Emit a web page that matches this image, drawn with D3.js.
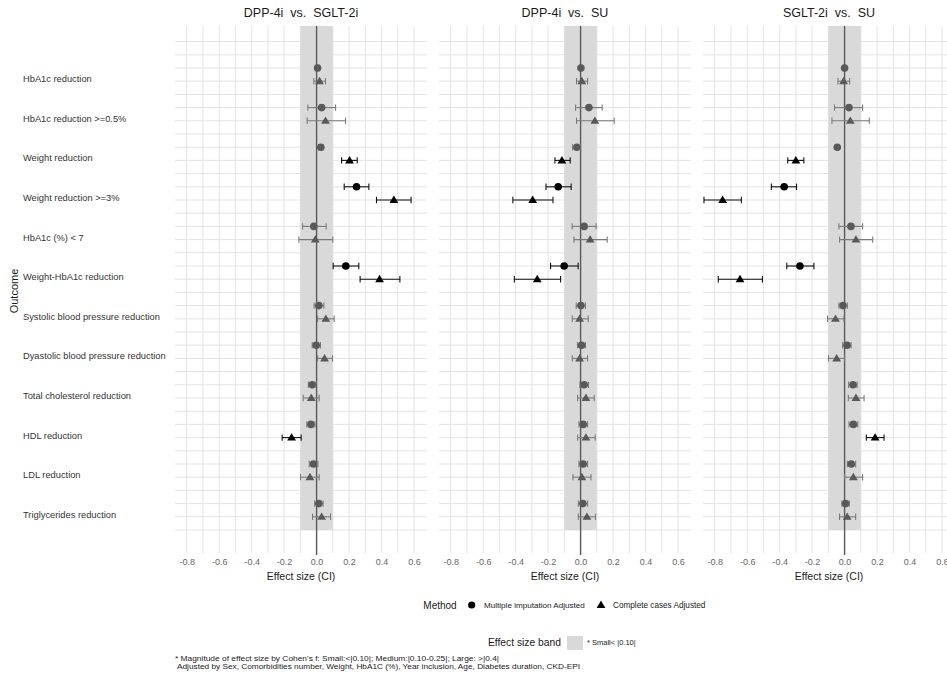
<!DOCTYPE html>
<html><head><meta charset="utf-8">
<script src="https://cdn.jsdelivr.net/npm/d3@7"></script>
<style>body{margin:0;background:#fff}svg{display:block;font-family:"Liberation Sans",Arial,sans-serif}</style>
</head><body><svg id="c" width="947" height="679"></svg>
<script>
// ---------- DATA ----------
const outcomes = ["HbA1c reduction","HbA1c reduction >=0.5%","Weight reduction","Weight reduction >=3%","HbA1c (%) < 7","Weight-HbA1c reduction","Systolic blood pressure reduction","Dyastolic blood pressure reduction","Total cholesterol reduction","HDL reduction","LDL reduction","Triglycerides reduction"];
const comparisons = ["DPP-4i  vs.  SGLT-2i","DPP-4i  vs.  SU","SGLT-2i  vs.  SU"];
const methods = ["Multiple imputation Adjusted","Complete cases Adjusted"];
const xTicks = [-0.8,-0.6,-0.4,-0.2,0.0,0.2,0.4,0.6];
const bandLimit = 0.10;

// DPP-4i vs SGLT-2i
const dsMiEst = [0.006,0.031,0.026,0.246,-0.017,0.180,0.014,-0.002,-0.027,-0.035,-0.019,0.014];
const dsMiLo  = [-0.004,-0.054,0.014,0.170,-0.086,0.102,-0.015,-0.027,-0.051,-0.060,-0.045,-0.012];
const dsMiHi  = [0.016,0.117,0.038,0.322,0.059,0.260,0.045,0.024,-0.004,-0.010,0.008,0.040];
const dsCcEst = [0.018,0.055,0.203,0.476,-0.008,0.388,0.057,0.049,-0.033,-0.154,-0.041,0.031];
const dsCcLo  = [-0.017,-0.058,0.154,0.369,-0.109,0.268,0.006,0.006,-0.082,-0.212,-0.099,-0.025];
const dsCcHi  = [0.055,0.178,0.250,0.582,0.100,0.513,0.108,0.098,0.016,-0.095,0.016,0.086];
// DPP-4i vs SU
const duMiEst = [0.002,0.051,-0.023,-0.138,0.022,-0.101,0.002,0.006,0.022,0.016,0.016,0.014];
const duMiLo  = [-0.006,-0.031,-0.049,-0.213,-0.052,-0.185,-0.027,-0.019,-0.004,-0.010,-0.010,-0.014];
const duMiHi  = [0.010,0.133,0.000,-0.058,0.096,-0.015,0.030,0.030,0.049,0.043,0.043,0.043];
const duCcEst = [0.008,0.088,-0.115,-0.295,0.059,-0.267,-0.006,-0.006,0.033,0.033,0.008,0.039];
const duCcLo  = [-0.025,-0.025,-0.158,-0.417,-0.041,-0.408,-0.051,-0.051,-0.018,-0.018,-0.047,-0.014];
const duCcHi  = [0.043,0.207,-0.064,-0.170,0.164,-0.123,0.047,0.043,0.084,0.090,0.064,0.092];
// SGLT-2i vs SU
const suMiEst = [0.000,0.027,-0.045,-0.372,0.039,-0.275,-0.010,0.015,0.052,0.054,0.041,0.006];
const suMiLo  = [-0.008,-0.062,-0.053,-0.451,-0.035,-0.356,-0.035,-0.012,0.025,0.027,0.017,-0.017];
const suMiHi  = [0.008,0.111,-0.037,-0.296,0.111,-0.189,0.017,0.040,0.077,0.081,0.068,0.029];
const suCcEst = [-0.006,0.035,-0.300,-0.751,0.070,-0.644,-0.056,-0.049,0.070,0.188,0.054,0.016];
const suCcLo  = [-0.041,-0.078,-0.350,-0.866,-0.031,-0.778,-0.105,-0.099,0.023,0.134,0.000,-0.031];
const suCcHi  = [0.031,0.152,-0.251,-0.636,0.173,-0.506,-0.004,0.000,0.120,0.243,0.111,0.068];

const panels = [
  {title: comparisons[0], mi:[dsMiEst,dsMiLo,dsMiHi], cc:[dsCcEst,dsCcLo,dsCcHi]},
  {title: comparisons[1], mi:[duMiEst,duMiLo,duMiHi], cc:[duCcEst,duCcLo,duCcHi]},
  {title: comparisons[2], mi:[suMiEst,suMiLo,suMiHi], cc:[suCcEst,suCcLo,suCcHi]}
];

// ---------- LAYOUT ----------
const svg = d3.select("#c");
const panelW = 252, stride = 264, firstLeft = 175;
const panelTop = 26, panelBottom = 553;
const domainX = [-0.872, 0.68];
const nSlots = 38;
const y = d3.scaleLinear().domain([0, nSlots]).range([28.4, 530]);

const gridCol = "#e3e3e3", bandCol = "#d9d9d9";
const greyPt = "#595959", greyBar = "#7a7a7a", blackPt = "#000";

const triPath = "M0,-4.4L4.4,3L-4.4,3Z";

panels.forEach((p, pi) => {
  const left = firstLeft + pi * stride;
  const x = d3.scaleLinear().domain(domainX).range([left, left + panelW]);
  const g = svg.append("g");

  // vertical grid every 0.1
  const vgrid = d3.range(-8, 7).map(d => d / 10);
  g.selectAll(".vg").data(vgrid).join("line")
    .attr("x1", d => x(d)).attr("x2", d => x(d))
    .attr("y1", panelTop).attr("y2", panelBottom)
    .attr("stroke", gridCol).attr("stroke-width", 1);
  // horizontal grid
  g.selectAll(".hg").data(d3.range(1, nSlots + 1)).join("line")
    .attr("x1", left).attr("x2", left + panelW)
    .attr("y1", d => y(d)).attr("y2", d => y(d))
    .attr("stroke", gridCol).attr("stroke-width", 1);

  // small effect band
  g.append("rect")
    .attr("x", x(-bandLimit)).attr("width", x(bandLimit) - x(-bandLimit))
    .attr("y", panelTop).attr("height", y(nSlots) - panelTop)
    .attr("fill", bandCol);

  // zero line
  g.append("line").attr("x1", x(0)).attr("x2", x(0))
    .attr("y1", panelTop).attr("y2", panelBottom + 2)
    .attr("stroke", "#5a5a5a").attr("stroke-width", 1.4);

  // title
  g.append("text").attr("x", left + panelW / 2).attr("y", 16.5)
    .attr("text-anchor", "middle").attr("font-size", 12.5).attr("fill", "#1a1a1a")
    .style("white-space", "pre").text(p.title);

  // axis
  const ax = g.append("g").attr("transform", `translate(0,${panelBottom})`)
    .call(d3.axisBottom(x).tickValues(xTicks).tickSize(0).tickPadding(6).tickFormat(d => d.toFixed(1)));
  ax.select(".domain").remove();
  ax.selectAll("text").attr("font-size", 9).attr("fill", "#666").attr("font-family", "Liberation Sans, Arial, sans-serif");

  g.append("text").attr("x", left + panelW / 2).attr("y", 579.5)
    .attr("text-anchor", "middle").attr("font-size", 10.5).attr("fill", "#1a1a1a")
    .text("Effect size (CI)");

  // points
  const series = [
    {vals: p.mi, offset: 3, shape: "circle"},
    {vals: p.cc, offset: 4, shape: "triangle"}
  ];
  series.forEach(s => {
    const [est, lo, hi] = s.vals;
    outcomes.forEach((o, i) => {
      const yy = y(3 * i + s.offset);
      const strong = Math.abs(est[i]) > bandLimit;
      const pc = strong ? blackPt : greyPt;
      const bc = strong ? "#111" : greyBar;
      const eg = g.append("g");
      eg.append("line").attr("x1", x(lo[i])).attr("x2", x(hi[i])).attr("y1", yy).attr("y2", yy)
        .attr("stroke", bc).attr("stroke-width", 1.1);
      [lo[i], hi[i]].forEach(v => {
        eg.append("line").attr("x1", x(v)).attr("x2", x(v)).attr("y1", yy - 3.2).attr("y2", yy + 3.2)
          .attr("stroke", bc).attr("stroke-width", 1.1);
      });
      if (s.shape === "circle") {
        eg.append("circle").attr("cx", x(est[i])).attr("cy", yy).attr("r", 3.8).attr("fill", pc);
      } else {
        eg.append("path").attr("d", triPath).attr("transform", `translate(${x(est[i])},${yy})`).attr("fill", pc);
      }
    });
  });

  // y labels (first panel only)
  if (pi === 0) {
    svg.append("g").selectAll("text").data(outcomes).join("text")
      .attr("x", 23).attr("y", (d, i) => y(3 * i + 4) + 1)
      .attr("font-size", 9.3).attr("fill", "#333")
      .text(d => d);
  }
});

// y axis title
svg.append("text").attr("transform", "translate(18,291) rotate(-90)")
  .attr("text-anchor", "middle").attr("font-size", 11).attr("fill", "#1a1a1a").text("Outcome");

// ---------- LEGENDS ----------
const leg = svg.append("g");
leg.append("text").attr("x", 440).attr("y", 608.5).attr("text-anchor", "middle")
  .attr("font-size", 10).attr("fill", "#1a1a1a").text("Method");
leg.append("circle").attr("cx", 471.7).attr("cy", 605).attr("r", 3.6).attr("fill", "#000");
leg.append("text").attr("x", 484).attr("y", 607.8).attr("font-size", 8.1).attr("fill", "#1a1a1a").text(methods[0]);
leg.append("path").attr("d", triPath).attr("transform", "translate(601,605)").attr("fill", "#000");
leg.append("text").attr("x", 613).attr("y", 607.8).attr("font-size", 8.2).attr("fill", "#1a1a1a").text(methods[1]);

leg.append("text").attr("x", 561).attr("y", 646.3).attr("text-anchor", "end")
  .attr("font-size", 10.3).attr("fill", "#1a1a1a").text("Effect size band");
leg.append("rect").attr("x", 567).attr("y", 636).attr("width", 16).attr("height", 14).attr("fill", bandCol);
leg.append("text").attr("x", 587).attr("y", 645.3).attr("font-size", 7.5).attr("fill", "#1a1a1a").text("* Small< |0.10|");

// footnotes
svg.append("text").attr("x", 175).attr("y", 661).attr("font-size", 7.4).attr("fill", "#1a1a1a")
  .attr("textLength", 324).attr("lengthAdjust", "spacingAndGlyphs")
  .text("* Magnitude of effect size by Cohen's f: Small:<|0.10|; Medium:|0.10-0.25|; Large: >|0.4|");
svg.append("text").attr("x", 177).attr("y", 668.5).attr("font-size", 7.4).attr("fill", "#1a1a1a")
  .attr("textLength", 403).attr("lengthAdjust", "spacingAndGlyphs")
  .text("Adjusted by Sex, Comorbidities number, Weight, HbA1C (%), Year inclusion, Age, Diabetes duration, CKD-EPI");
</script></body></html>
